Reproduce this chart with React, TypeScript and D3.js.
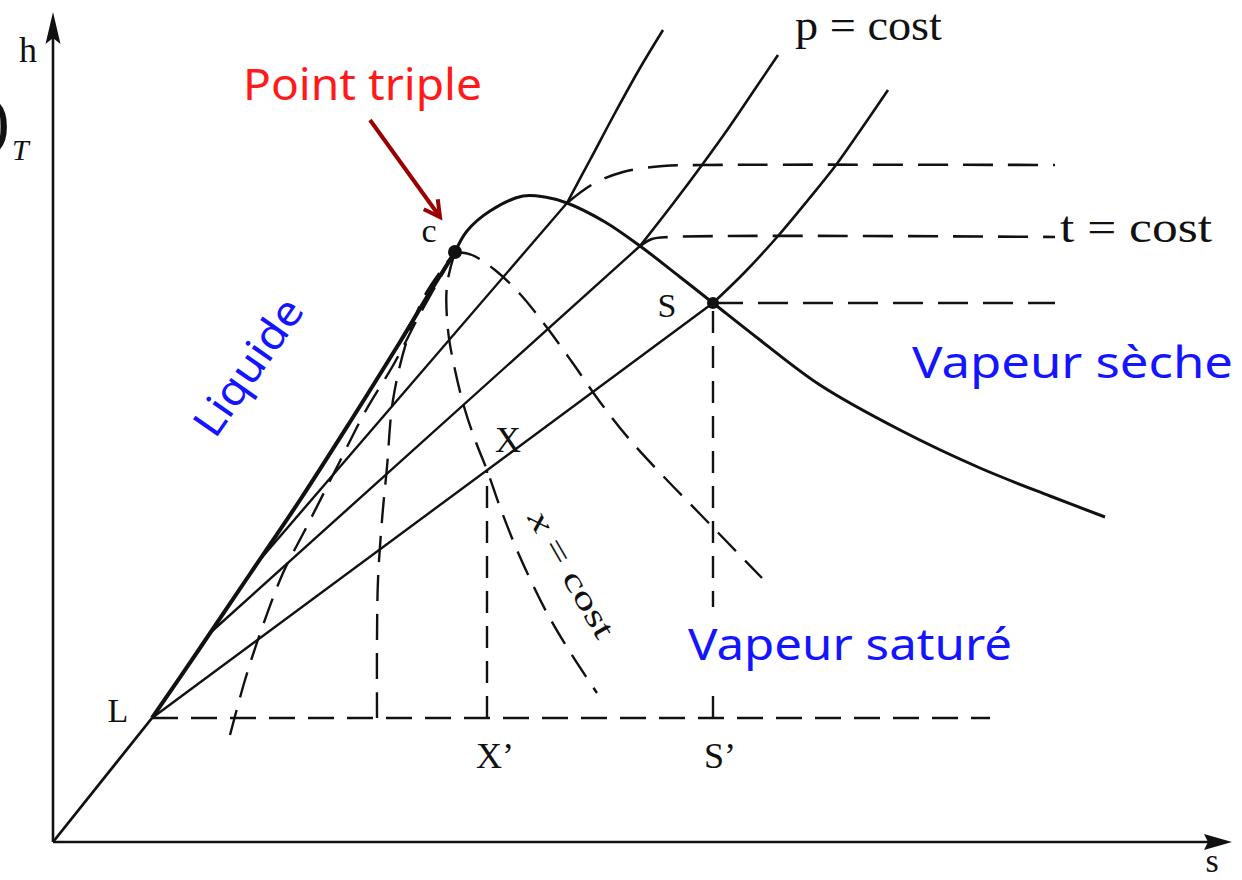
import * as d3 from "d3"

// Diagramme h-s (Mollier) (unités arbitraires)
type P = [number, number]

const origin: P = [0, 0]
const pointL: P = [9.9, 12.4]
const pointC: P = [40.2, 59.0]
const pointS: P = [66.0, 53.9]
const pointX: P = [43.4, 37.2]

// courbe de saturation, branche liquide puis branche vapeur
const liquidBranch: P[] = [
  [9.9, 12.4], [14.7, 19.4], [19.7, 26.8], [24.7, 34.2], [29.7, 42.0],
  [34.7, 50.0], [37.7, 55.0], [40.2, 59.0],
]
const vaporBranch: P[] = [
  [40.2, 59.0], [41.4, 61.1], [43.7, 63.1], [47.0, 64.6], [49.2, 64.5],
  [51.4, 63.9], [55.2, 62.0], [58.7, 59.6], [62.7, 56.5], [66.0, 53.9],
  [70.7, 50.2], [76.7, 45.7], [84.7, 41.2], [92.7, 37.4], [99.7, 34.6], [105.2, 32.5],
]

// isobares : segment droit dans la zone humide + courbe en vapeur sèche
const isobarWet: P[][] = [
  [[20.5, 28.0], [51.4, 63.9]],
  [[15.7, 20.9], [58.7, 59.6]],
  [[9.9, 12.4], [66.0, 53.9]],
]
const isobarDry: P[][] = [
  [[51.4, 63.9], [53.7, 68.2], [56.2, 72.9], [58.7, 77.4], [61.0, 81.2]],
  [[58.7, 59.6], [61.9, 63.7], [64.9, 67.7], [67.7, 71.6], [70.2, 75.3], [72.5, 78.7]],
  [[66.0, 53.9], [69.2, 57.0], [72.5, 60.6], [75.5, 64.2], [78.3, 67.7], [80.9, 71.4], [83.5, 75.2]],
]

// isothermes (t = cost)
const isotherms: P[][] = [
  [[51.4, 63.9], [54.0, 65.8], [57.0, 67.0], [61.0, 67.6], [65.0, 67.7], [100.2, 67.7]],
  [[58.7, 59.6], [59.9, 60.3], [61.7, 60.5], [100.2, 60.5]],
  [[66.0, 53.9], [100.2, 53.9]],
]

// titres constants (x = cost)
const qualityCurves: P[][] = [
  [[17.7, 10.7], [19.2, 16.2], [20.9, 21.4], [23.0, 26.9], [25.2, 31.2], [28.4, 37.5],
   [31.2, 43.0], [34.2, 48.0], [36.7, 52.8], [40.2, 59.0]],
  [[32.4, 12.4], [32.4, 20.2], [32.5, 26.2], [32.9, 32.2], [33.4, 37.5], [34.0, 44.2],
   [35.4, 50.2], [37.2, 54.7], [40.2, 59.0]],
  [[40.2, 59.0], [39.4, 55.7], [39.5, 51.2], [40.2, 47.2], [41.2, 43.2], [42.4, 39.7],
   [43.4, 37.2], [44.7, 33.5], [46.7, 28.5], [49.4, 22.9], [51.7, 19.0], [54.4, 14.9]],
  [[40.2, 59.0], [41.9, 58.7], [44.2, 57.2], [46.7, 54.8], [49.2, 51.7], [51.9, 48.0],
   [54.7, 44.0], [57.7, 40.2], [61.2, 36.4], [64.7, 32.8], [67.7, 29.7], [70.9, 26.4]],
]

const baseLineEnd = 93.7

const W = 1242
const H = 880

export default function App() {
  const x = d3.scaleLinear().domain([0, 117]).range([53, 1223])
  const y = d3.scaleLinear().domain([0, 80]).range([842, 42])

  const straight = d3.line<P>().x((d) => x(d[0])).y((d) => y(d[1]))
  const smooth = d3
    .line<P>()
    .x((d) => x(d[0]))
    .y((d) => y(d[1]))
    .curve(d3.curveCatmullRom.alpha(0.5))

  const black = "#111"
  const serif = "'Liberation Serif', 'Times New Roman', serif"
  const sans = "'Noto Sans', 'DejaVu Sans', sans-serif"
  const blue = "#1414ff"
  const dash = "26 13"

  // flèche "Point triple"
  const a0: P = [31.7, 72.2]
  const a1: P = [38.7, 62.5]
  const ax0 = x(a0[0]), ay0 = y(a0[1]), ax1 = x(a1[0]), ay1 = y(a1[1])
  const ang = Math.atan2(ay1 - ay0, ax1 - ax0)
  const head = 18
  const wing = (da: number) => [ax1 - head * Math.cos(ang + da), ay1 - head * Math.sin(ang + da)]
  const w1 = wing(0.5)
  const w2 = wing(-0.5)

  return (
    <svg
      width={W}
      height={H}
      style={{ position: "absolute", left: 0, top: 0, background: "#fff" }}
    >
      {/* fragment de formule coupé à gauche */}
      <text x={10} y={143} fontFamily={serif} fontSize={68} textAnchor="end" fill={black}>
        )
      </text>
      <text x={12} y={160} fontFamily={serif} fontSize={30} fontStyle="italic" fill={black}>
        T
      </text>

      {/* axes */}
      <line x1={x(0)} y1={y(0)} x2={x(0)} y2={y(81)} stroke={black} strokeWidth={2.6} />
      <polygon
        points={`${x(0)},${y(83)} ${x(0) - 7.5},${y(79.8)} ${x(0)},${y(80.4)} ${x(0) + 7.5},${y(79.8)}`}
        fill={black}
      />
      <line x1={x(0)} y1={y(0)} x2={x(116)} y2={y(0)} stroke={black} strokeWidth={2.6} />
      <polygon
        points={`${x(117.9)},${y(0)} ${x(115.1)},${y(0) - 8} ${x(115.5)},${y(0)} ${x(115.1)},${y(0) + 8}`}
        fill={black}
      />
      <text x={x(-2.5)} y={y(78)} fontFamily={serif} fontSize={36} textAnchor="middle" fill={black}>
        h
      </text>
      <text x={x(115.9)} y={y(-3.0)} fontFamily={serif} fontSize={34} textAnchor="middle" fill={black}>
        s
      </text>

      {/* lignes pointillées horizontales / verticales */}
      <path
        d={straight([pointL, [baseLineEnd, pointL[1]]]) || ""}
        fill="none"
        stroke={black}
        strokeWidth={2.4}
        strokeDasharray={dash}
      />
      <path
        d={straight([[pointX[0], pointL[1]], pointX]) || ""}
        fill="none"
        stroke={black}
        strokeWidth={2.4}
        strokeDasharray="22 13"
      />
      <path
        d={straight([[pointS[0], pointL[1]], pointS]) || ""}
        fill="none"
        stroke={black}
        strokeWidth={2.4}
        strokeDasharray="22 13"
      />

      {/* titres constants */}
      {qualityCurves.map((c, i) => (
        <path
          key={"q" + i}
          d={smooth(c) || ""}
          fill="none"
          stroke={black}
          strokeWidth={2.4}
          strokeDasharray={dash}
        />
      ))}

      {/* isothermes */}
      {isotherms.map((c, i) => (
        <path
          key={"t" + i}
          d={smooth(c) || ""}
          fill="none"
          stroke={black}
          strokeWidth={2.6}
          strokeDasharray="30 15"
        />
      ))}

      {/* isobares */}
      {isobarWet.map((c, i) => (
        <path key={"w" + i} d={straight(c) || ""} fill="none" stroke={black} strokeWidth={2.4} />
      ))}
      {isobarDry.map((c, i) => (
        <path key={"d" + i} d={smooth(c) || ""} fill="none" stroke={black} strokeWidth={2.6} />
      ))}

      {/* origine -> L et courbe de saturation */}
      <path d={straight([origin, pointL]) || ""} fill="none" stroke={black} strokeWidth={2.8} />
      <path d={smooth(liquidBranch) || ""} fill="none" stroke={black} strokeWidth={4} />
      <path d={smooth(vaporBranch) || ""} fill="none" stroke={black} strokeWidth={3} />

      <circle cx={x(pointC[0])} cy={y(pointC[1])} r={7} fill={black} />
      <circle cx={x(pointS[0])} cy={y(pointS[1])} r={6} fill={black} />

      {/* étiquettes du schéma */}
      <g fontFamily={serif} fill={black} textAnchor="middle">
        <text x={x(6.5)} y={y(12.0)} fontSize={34}>L</text>
        <text x={x(37.6)} y={y(60.0)} fontSize={34}>c</text>
        <text x={x(61.4)} y={y(52.5)} fontSize={34}>S</text>
        <text x={x(45.5)} y={y(39.0)} fontSize={36}>X</text>
        <text x={x(44.2)} y={y(7.4)} fontSize={36}>X’</text>
        <text x={x(66.7)} y={y(7.4)} fontSize={36}>S’</text>
      </g>
      <text
        x={x(74.2)}
        y={y(80.2)}
        fontFamily={serif}
        fontSize={44}
        textLength={147}
        lengthAdjust="spacingAndGlyphs"
        fill={black}
      >
        p = cost
      </text>
      <text
        x={x(100.7)}
        y={y(60.0)}
        fontFamily={serif}
        fontSize={44}
        textLength={152}
        lengthAdjust="spacingAndGlyphs"
        fill={black}
      >
        t = cost
      </text>
      <text
        transform={`translate(${x(47.4)},${y(32.4)}) rotate(60)`}
        fontFamily={serif}
        fontSize={32}
        textLength={142}
        lengthAdjust="spacingAndGlyphs"
        fill={black}
      >
        <tspan fontStyle="italic">x</tspan> = cost
      </text>

      {/* annotations en couleur */}
      <text
        x={x(19.0)}
        y={y(74.2)}
        fontFamily={sans}
        fontSize={44}
        textLength={239}
        lengthAdjust="spacingAndGlyphs"
        fill="#ff1a1a"
      >
        Point triple
      </text>
      <line x1={ax0} y1={ay0} x2={ax1} y2={ay1} stroke="#9b0000" strokeWidth={4} />
      <polyline
        points={`${w1[0]},${w1[1]} ${ax1},${ay1} ${w2[0]},${w2[1]}`}
        fill="none"
        stroke="#9b0000"
        strokeWidth={4}
      />
      <text
        transform={`translate(${x(16.2)},${y(40.2)}) rotate(-55)`}
        fontFamily={sans}
        fontSize={42}
        textLength={158}
        lengthAdjust="spacingAndGlyphs"
        fill={blue}
      >
        Liquide
      </text>
      <text
        x={x(85.9)}
        y={y(46.4)}
        fontFamily={sans}
        fontSize={44}
        textLength={321}
        lengthAdjust="spacingAndGlyphs"
        fill={blue}
      >
        Vapeur sèche
      </text>
      <rect x={x(63.3)} y={y(23.5)} width={330} height={80} fill="#fff" />
      <text
        x={x(63.5)}
        y={y(18.2)}
        fontFamily={sans}
        fontSize={44}
        textLength={324}
        lengthAdjust="spacingAndGlyphs"
        fill={blue}
      >
        Vapeur saturé
      </text>
    </svg>
  )
}
